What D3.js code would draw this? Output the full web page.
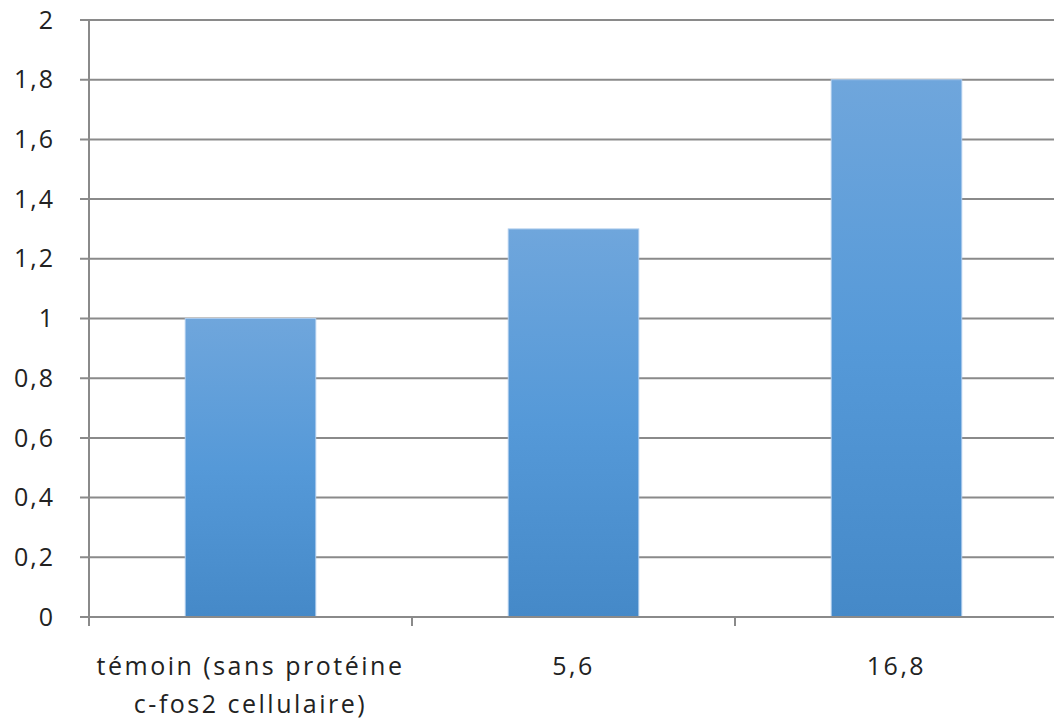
<!DOCTYPE html>
<html>
<head>
<meta charset="utf-8">
<script src="https://cdn.jsdelivr.net/npm/d3@7"></script>
<style>
  html, body { margin: 0; padding: 0; background: #fff; }
  svg text { font-family: "Open Sans", "Liberation Sans", sans-serif; fill: #222; }
</style>
</head>
<body>
<div id="chart"></div>
<script>
// values
const categories = [
  ["témoin (sans protéine", "c-fos2 cellulaire)"],
  ["5,6"],
  ["16,8"]
]
const values = [1, 1.3, 1.8]
const yTicks = [0, 0.2, 0.4, 0.6, 0.8, 1, 1.2, 1.4, 1.6, 1.8, 2]

const W = 1054, H = 722
const margin = { top: 20, right: -4, bottom: 105, left: 89 }

const fr = d3.formatLocale({ decimal: ",", thousands: " ", grouping: [3], currency: ["", "€"] })
const fmt = v => fr.format("~g")(+v.toFixed(2))

const svg = d3.select("#chart").append("svg")
  .attr("width", W)
  .attr("height", H)

const defs = svg.append("defs")
const grad = defs.append("linearGradient")
  .attr("id", "barGrad")
  .attr("x1", 0).attr("y1", 0).attr("x2", 0).attr("y2", 1)
grad.append("stop").attr("offset", "0%").attr("stop-color", "#6fa6dc")
grad.append("stop").attr("offset", "50%").attr("stop-color", "#5599d8")
grad.append("stop").attr("offset", "100%").attr("stop-color", "#4589c8")

const x0 = margin.left, x1 = W - margin.right
const y = d3.scaleLinear().domain([0, 2]).range([H - margin.bottom, margin.top])

const x = d3.scaleBand()
  .domain(d3.range(categories.length))
  .range([x0, x1])
  .paddingInner(0.596)
  .paddingOuter(0.298)

const step = (x1 - x0) / categories.length

// gridlines
svg.append("g")
  .selectAll("line")
  .data(yTicks)
  .join("line")
    .attr("x1", x0 - 9)
    .attr("x2", W)
    .attr("y1", d => y(d))
    .attr("y2", d => y(d))
    .attr("stroke", "#8a8a8a")
    .attr("stroke-width", 2)

// bars
svg.append("g")
  .selectAll("rect")
  .data(values)
  .join("rect")
    .attr("x", (d, i) => x(i))
    .attr("width", x.bandwidth())
    .attr("y", d => y(d))
    .attr("height", d => y(0) - y(d))
    .attr("fill", "url(#barGrad)")
    .attr("stroke", "#a9c9ec")
    .attr("stroke-width", 1)

// y axis line
svg.append("line")
  .attr("x1", x0).attr("x2", x0)
  .attr("y1", y(2)).attr("y2", y(0) + 9)
  .attr("stroke", "#8a8a8a")
  .attr("stroke-width", 2)

// x axis line redraw over bars
svg.append("line")
  .attr("x1", x0 - 9).attr("x2", W)
  .attr("y1", y(0)).attr("y2", y(0))
  .attr("stroke", "#8a8a8a")
  .attr("stroke-width", 2)

// x ticks at band boundaries
svg.append("g")
  .selectAll("line")
  .data(d3.range(categories.length + 1))
  .join("line")
    .attr("x1", i => x0 + i * step)
    .attr("x2", i => x0 + i * step)
    .attr("y1", y(0))
    .attr("y2", y(0) + 9)
    .attr("stroke", "#8a8a8a")
    .attr("stroke-width", 2)

// y labels
svg.append("g")
  .selectAll("text")
  .data(yTicks)
  .join("text")
    .attr("x", 55)
    .attr("y", d => y(d) + 2)
    .attr("text-anchor", "end")
    .attr("dominant-baseline", "middle")
    .style("font-size", "25px")
    .style("letter-spacing", "2px")
    .text(d => fmt(d))

// x labels
const xl = svg.append("g")
  .selectAll("text")
  .data(categories)
  .join("text")
    .attr("x", (d, i) => x(i) + x.bandwidth() / 2)
    .attr("y", 675)
    .attr("text-anchor", "middle")
    .style("font-size", "25px")
    .style("letter-spacing", "2.5px")

xl.selectAll("tspan")
  .data(d => d)
  .join("tspan")
    .attr("x", function() { return d3.select(this.parentNode).attr("x") })
    .attr("dy", (d, i) => i === 0 ? 0 : 38)
    .text(d => d)
</script>
</body>
</html>
